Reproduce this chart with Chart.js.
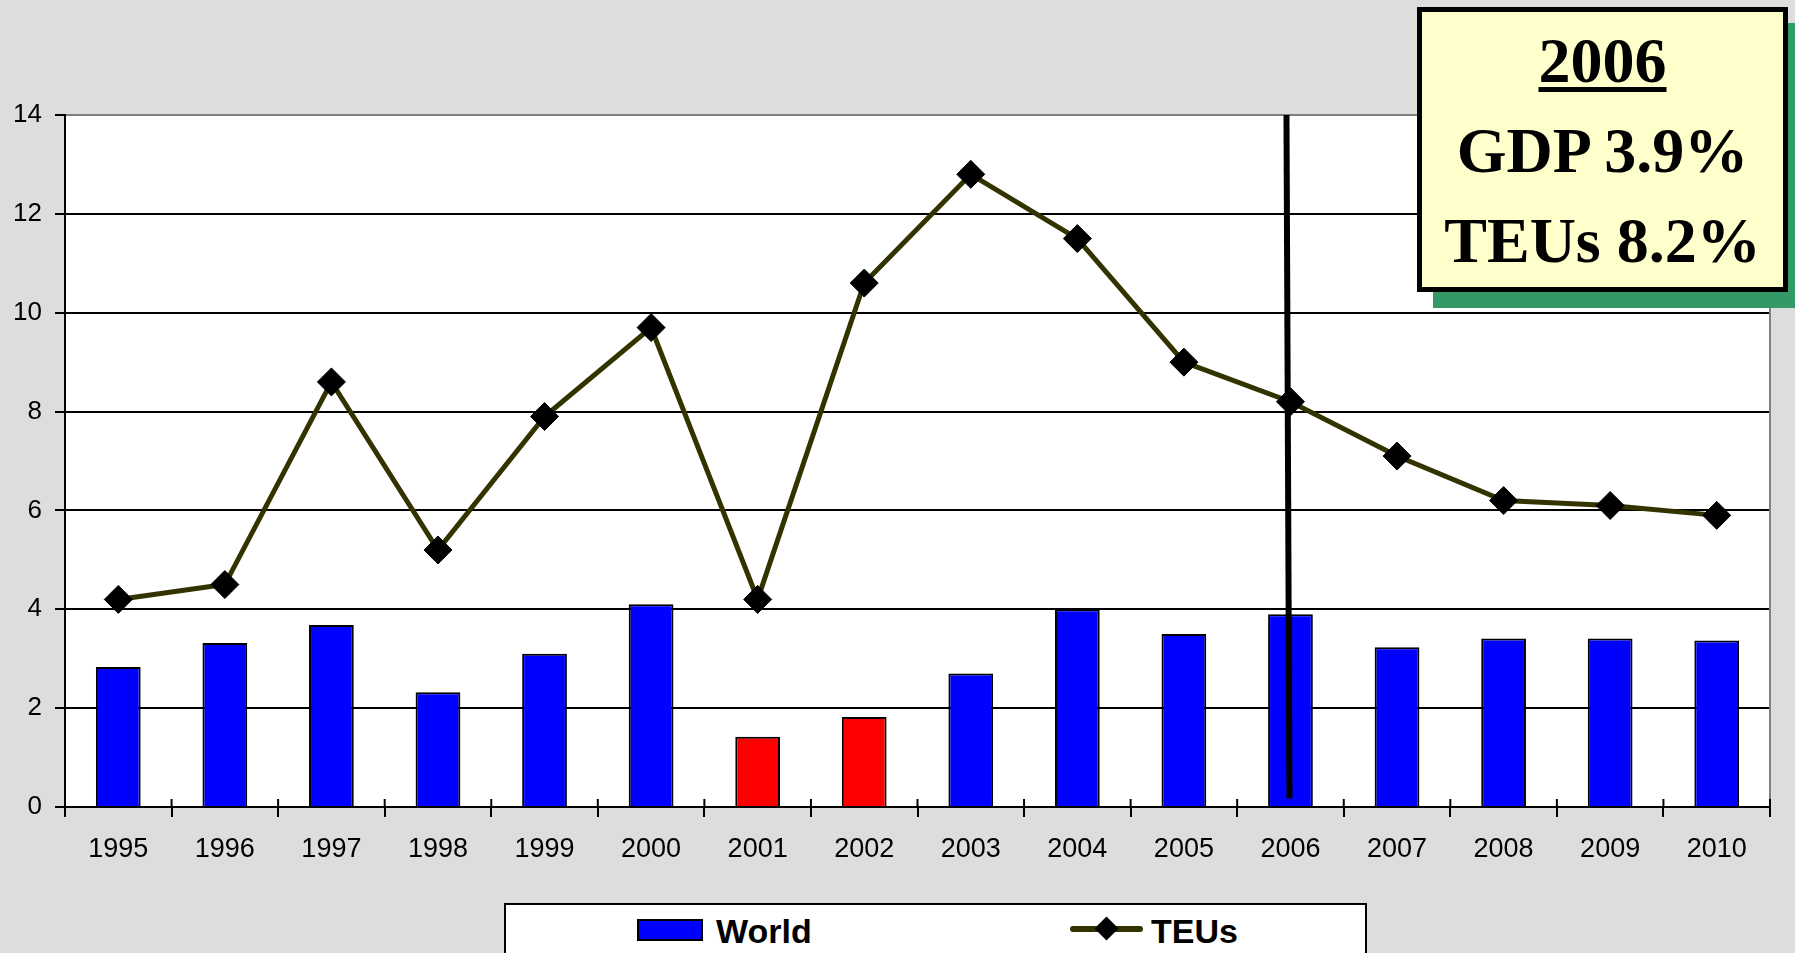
<!DOCTYPE html>
<html>
<head>
<meta charset="utf-8">
<script src="https://cdn.jsdelivr.net/npm/chart.js@4/dist/chart.umd.min.js"></script>
<style>
  html, body { margin: 0; padding: 0; background: #dddddd; overflow: hidden; }
  #wrap { position: relative; width: 1795px; height: 953px; overflow: hidden; }
  #chartBox { position: absolute; left: 0; top: 0; width: 1795px; height: 953px; }
  .sans { font-family: 'Liberation Sans', Arial, sans-serif; font-weight: bold; font-size: 34px; line-height: 34px; position: absolute; color: #000; }
  .serif { font-family: 'Liberation Serif', 'Times New Roman', serif; font-weight: bold; font-size: 64px; line-height: 64px; position: absolute; left: 0; width: 100%; text-align: center; color: #000; }
</style>
</head>
<body>
<div id="wrap">
  <div id="chartBox"><canvas id="chart"></canvas></div>

  <!-- note box -->
  <div style="position:absolute;left:1433px;top:23px;width:371px;height:285px;background:#339966;"></div>
  <div style="position:absolute;left:1417px;top:7px;width:371px;height:285px;background:#ffffcc;border:5px solid #000;box-sizing:border-box;">
    <div class="serif" style="top:17px;"><span style="text-decoration:underline;text-decoration-thickness:5px;text-underline-offset:5px;">2006</span></div>
    <div class="serif" style="top:107px;">GDP 3.9%</div>
    <div class="serif" style="top:197px;">TEUs 8.2%</div>
  </div>

  <!-- legend -->
  <div style="position:absolute;left:504px;top:903px;width:863px;height:70px;background:#fff;border:2px solid #000;box-sizing:border-box;">
    <div style="position:absolute;left:131px;top:14px;width:66px;height:22px;background:#0000ff;border:2px solid #000;box-sizing:border-box;"></div>
    <div class="sans" style="left:210px;top:9px;">World</div>
    <div style="position:absolute;left:564px;top:21px;width:73px;height:6px;background:#333300;border-radius:3px;"></div>
    <div style="position:absolute;left:592px;top:15px;width:17px;height:17px;background:#000;transform:rotate(45deg);"></div>
    <div class="sans" style="left:645px;top:9px;">TEUs</div>
  </div>
</div>

<script>
const years = ['1995', '1996', '1997', '1998', '1999', '2000', '2001', '2002',
  '2003', '2004', '2005', '2006', '2007', '2008', '2009', '2010'];
const worldGdp = [2.83, 3.32, 3.68, 2.32, 3.1, 4.1, 1.42, 1.82, 2.7, 4.0, 3.5, 3.9, 3.23, 3.41, 3.41, 3.37];
const teus = [4.2, 4.5, 8.6, 5.2, 7.9, 9.7, 4.2, 10.6, 12.8, 11.5, 9.0, 8.2, 7.1, 6.2, 6.1, 5.9];
const redYears = ['2001', '2002'];
const markYear = '2006';
const yTicks = [0, 2, 4, 6, 8, 10, 12, 14];

const barColors = years.map((y) => (redYears.includes(y) ? '#ff0000' : '#0000ff'));

// plot frame, inner x ticks and the 2006 marker line
const framePlugin = {
  id: 'frame',
  beforeDraw(chart) {
    const { ctx, chartArea: a } = chart;
    ctx.save();
    ctx.fillStyle = '#dddddd';
    ctx.fillRect(0, 0, chart.width, chart.height);
    ctx.fillStyle = '#ffffff';
    ctx.fillRect(a.left, a.top, a.right - a.left, a.bottom - a.top);
    ctx.restore();
  },
  afterDatasetsDraw(chart) {
    const { ctx, chartArea: a, scales } = chart;
    const xs = scales.x;
    const ys = scales.y;
    ctx.save();
    // right border
    ctx.strokeStyle = '#808080';
    ctx.lineWidth = 2;
    ctx.beginPath();
    ctx.moveTo(a.right, a.top);
    ctx.lineTo(a.right, a.bottom);
    ctx.stroke();
    // small ticks above the x axis
    ctx.strokeStyle = '#000';
    const step = xs.width / years.length;
    for (let i = 0; i <= years.length; i++) {
      const x = xs.left + i * step;
      ctx.beginPath();
      ctx.moveTo(x, a.bottom - 8);
      ctx.lineTo(x, a.bottom);
      ctx.stroke();
    }
    // vertical line at 2006
    const cx = xs.getPixelForValue(years.indexOf(markYear));
    ctx.lineWidth = 6;
    ctx.beginPath();
    ctx.moveTo(cx - 4, ys.getPixelForValue(14));
    ctx.lineTo(cx - 1, ys.getPixelForValue(0.17));
    ctx.stroke();
    ctx.restore();
  }
};

const ctx = document.getElementById('chart').getContext('2d');
new Chart(ctx, {
  data: {
    labels: years,
    datasets: [
      {
        type: 'line',
        label: 'TEUs',
        data: teus,
        borderColor: '#333300',
        borderWidth: 5,
        tension: 0,
        pointStyle: 'rectRot',
        pointRadius: 14,
        pointBackgroundColor: '#000',
        pointBorderColor: '#000',
        pointBorderWidth: 1,
        order: 0
      },
      {
        type: 'bar',
        label: 'World',
        data: worldGdp,
        backgroundColor: barColors,
        borderColor: '#000',
        borderWidth: 2,
        barPercentage: 0.42,
        categoryPercentage: 1.0,
        order: 1
      }
    ]
  },
  options: {
    responsive: true,
    maintainAspectRatio: false,
    animation: false,
    layout: {
      padding: { top: 115, right: 25, bottom: 0, left: 0 }
    },
    plugins: {
      legend: { display: false },
      tooltip: { enabled: false }
    },
    scales: {
      x: {
        offset: true,
        grid: {
          display: true,
          offset: true,
          drawOnChartArea: false,
          drawTicks: true,
          tickLength: 10,
          color: '#000',
          lineWidth: 2
        },
        border: { display: true, color: '#000', width: 2 },
        ticks: {
          color: '#000',
          padding: 16,
          maxRotation: 0,
          font: { family: "'Liberation Sans', Arial, sans-serif", size: 27 }
        },
        afterFit: (scale) => { scale.height = 146; }
      },
      y: {
        min: 0,
        max: 14,
        afterBuildTicks: (scale) => { scale.ticks = yTicks.map((v) => ({ value: v })); },
        grid: {
          color: (c) => (c.tick && c.tick.value === 14 ? '#808080' : '#000'),
          lineWidth: 2,
          tickLength: 10,
          tickColor: '#000'
        },
        border: { display: true, color: '#000', width: 2 },
        ticks: {
          color: '#000',
          padding: 13,
          font: { family: "'Liberation Sans', Arial, sans-serif", size: 26 }
        },
        afterFit: (scale) => { scale.width = 65; }
      }
    }
  },
  plugins: [framePlugin]
});
</script>
</body>
</html>
